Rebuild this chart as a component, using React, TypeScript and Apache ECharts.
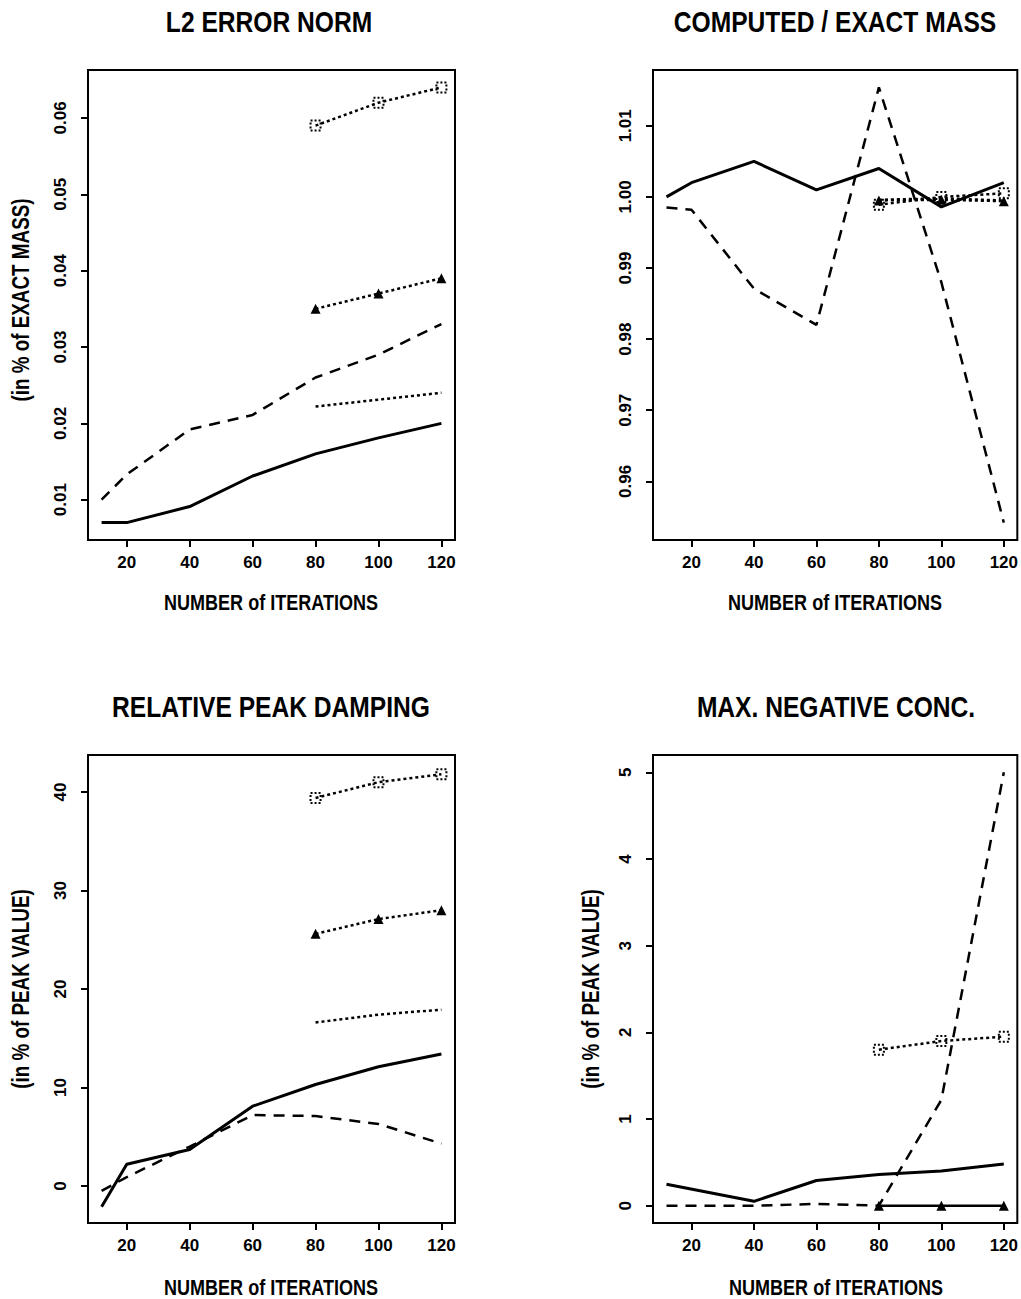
import React, { useEffect, useRef } from "react";
import * as echarts from "echarts";

// ---------- data ----------
const iterations = [12, 20, 40, 60, 80, 100, 120];
const iterLate = [80, 100, 120];
const iterNeg = [12, 40, 60, 80, 100, 120];
const xTicks = [20, 40, 60, 80, 100, 120];

// Panel 1: L2 error norm
const l2Solid = [0.007, 0.007, 0.0091, 0.0131, 0.016, 0.0181, 0.02];
const l2Dashed = [0.01, 0.0133, 0.0192, 0.0211, 0.026, 0.029, 0.033];
const l2Dotted = [0.0222, 0.0231, 0.024];
const l2Triangle = [0.035, 0.037, 0.039];
const l2Square = [0.059, 0.062, 0.064];
const l2Ticks = [0.01, 0.02, 0.03, 0.04, 0.05, 0.06];

// Panel 2: computed / exact mass
const massSolid = [1.0, 1.002, 1.005, 1.001, 1.004, 0.9986, 1.002];
const massDashed = [0.9985, 0.9982, 0.9871, 0.982, 1.0154, 0.988, 0.9542];
const massDotted = [0.9996, 0.9998, 0.9995];
const massTriangle = [0.9995, 0.9996, 0.9994];
const massSquare = [0.9989, 1.0, 1.0005];
const massTicks = [0.96, 0.97, 0.98, 0.99, 1.0, 1.01];

// Panel 3: relative peak damping
const dampSolid = [-2.1, 2.2, 3.7, 8.1, 10.3, 12.1, 13.4];
const dampDashed = [-0.5, 0.9, 4.0, 7.2, 7.1, 6.3, 4.3];
const dampDotted = [16.6, 17.4, 17.9];
const dampTriangle = [25.6, 27.1, 28.0];
const dampSquare = [39.4, 41.0, 41.8];
const dampTicks = [0, 10, 20, 30, 40];

// Panel 4: max negative concentration
const negSolid = [0.247, 0.05, 0.29, 0.36, 0.4, 0.48];
const negDashed = [0.0, 0.0, 0.02, 0.0, 1.22, 5.0];
const negTriangle = [0.0, 0.0, 0.0];
const negSquare = [1.8, 1.9, 1.95];
const negTicks = [0, 1, 2, 3, 4, 5];

const titles = ["L2 ERROR NORM", "COMPUTED / EXACT MASS", "RELATIVE PEAK DAMPING", "MAX. NEGATIVE CONC."];
const xTitle = "NUMBER of ITERATIONS";
const yTitleMass = "(in % of EXACT MASS)";
const yTitlePeak = "(in % of PEAK VALUE)";

// ---------- styling ----------
const FONT = "'Liberation Sans', Arial, sans-serif";
const NARROW = 0.82;

const solidStyle = { color: "#000", width: 3, type: "solid" as any };
const dashedStyle = { color: "#000", width: 2.5, type: [11, 8] as any };
const dottedStyle = { color: "#000", width: 2.5, type: [3, 3] as any };

function pairs(xs: number[], ys: number[]) {
  return xs.map((x, i) => [x, ys[i]]);
}

function line(idx: number, xs: number[], ys: number[], ls: any, marker?: "triangle" | "square") {
  const s: any = {
    type: "line",
    xAxisIndex: idx,
    yAxisIndex: idx,
    data: pairs(xs, ys),
    lineStyle: ls,
    showSymbol: !!marker,
    symbol: "none",
    silent: true,
    z: 3,
  };
  if (marker === "triangle") {
    s.symbol = "triangle";
    s.symbolSize = 10;
    s.itemStyle = { color: "#000" };
  } else if (marker === "square") {
    s.symbol = "rect";
    s.symbolSize = 10;
    s.itemStyle = { color: "rgba(0,0,0,0)", borderColor: "#000", borderWidth: 2, borderType: [2, 2] };
  }
  return s;
}

const grids = [
  { left: 88, top: 70, width: 367, height: 470 },
  { left: 653, top: 70, width: 365, height: 470 },
  { left: 88, top: 755, width: 367, height: 468 },
  { left: 653, top: 755, width: 366, height: 468 },
];

const yRanges = [
  [0.00472, 0.06628],
  [0.95175, 1.01785],
  [-3.76, 43.76],
  [-0.2, 5.2],
];
const yTickSets = [l2Ticks, massTicks, dampTicks, negTicks];
const yFormat = [
  (v: number) => v.toFixed(2),
  (v: number) => v.toFixed(2),
  (v: number) => String(Math.round(v)),
  (v: number) => String(Math.round(v)),
];

function text(x: number, y: number, str: string, size: number, bold: boolean, rot = 0) {
  return {
    type: "text",
    x,
    y,
    rotation: rot,
    scaleX: NARROW,
    silent: true,
    style: {
      text: str,
      fill: "#000",
      font: `${bold ? "bold " : ""}${size}px ${FONT}`,
      textAlign: "center",
      textVerticalAlign: "middle",
    },
  };
}

export default function App() {
  const ref = useRef<HTMLDivElement>(null);

  useEffect(() => {
    if (!ref.current) return;
    const chart = echarts.init(ref.current, null, { renderer: "svg" });

    const xAxis = grids.map((_, i) => ({
      type: "value",
      gridIndex: i,
      min: 7.68,
      max: 124.32,
      axisLine: { show: false, onZero: false },
      splitLine: { show: false },
      axisTick: { show: true, customValues: xTicks, length: 7, inside: false, lineStyle: { color: "#000", width: 2 } },
      axisLabel: {
        show: true,
        customValues: xTicks,
        margin: 14,
        color: "#000",
        fontFamily: FONT,
        fontWeight: "bold",
        fontSize: 17,
      },
    }));

    const yAxis = grids.map((_, i) => ({
      type: "value",
      gridIndex: i,
      min: yRanges[i][0],
      max: yRanges[i][1],
      axisLine: { show: false, onZero: false },
      splitLine: { show: false },
      axisTick: { show: true, customValues: yTickSets[i], length: 7, inside: false, lineStyle: { color: "#000", width: 2 } },
      axisLabel: {
        show: true,
        customValues: yTickSets[i],
        formatter: yFormat[i],
        rotate: 90,
        margin: 19,
        color: "#000",
        fontFamily: FONT,
        fontWeight: "bold",
        fontSize: 17,
      },
    }));

    const series = [
      line(0, iterations, l2Solid, solidStyle),
      line(0, iterations, l2Dashed, dashedStyle),
      line(0, iterLate, l2Dotted, dottedStyle),
      line(0, iterLate, l2Triangle, dottedStyle, "triangle"),
      line(0, iterLate, l2Square, dottedStyle, "square"),

      line(1, iterations, massSolid, solidStyle),
      line(1, iterations, massDashed, dashedStyle),
      line(1, iterLate, massDotted, dottedStyle),
      line(1, iterLate, massTriangle, dottedStyle, "triangle"),
      line(1, iterLate, massSquare, dottedStyle, "square"),

      line(2, iterations, dampSolid, solidStyle),
      line(2, iterations, dampDashed, dashedStyle),
      line(2, iterLate, dampDotted, dottedStyle),
      line(2, iterLate, dampTriangle, dottedStyle, "triangle"),
      line(2, iterLate, dampSquare, dottedStyle, "square"),

      line(3, iterNeg, negSolid, solidStyle),
      line(3, iterNeg, negDashed, dashedStyle),
      line(3, iterLate, negTriangle, { color: "#000", width: 2.5, type: "solid" }, "triangle"),
      line(3, iterLate, negSquare, dottedStyle, "square"),
    ];

    const graphic = [
      text(269, 22, titles[0], 30, true),
      text(835, 22, titles[1], 30, true),
      text(271, 707, titles[2], 30, true),
      text(836, 707, titles[3], 30, true),
      text(271, 602, xTitle, 22, true),
      text(835, 602, xTitle, 22, true),
      text(271, 1287, xTitle, 22, true),
      text(836, 1287, xTitle, 22, true),
      text(21, 300, yTitleMass, 23, true, Math.PI / 2),
      text(21, 989, yTitlePeak, 23, true, Math.PI / 2),
      text(591, 989, yTitlePeak, 23, true, Math.PI / 2),
    ];

    chart.setOption({
      animation: false,
      backgroundColor: "#fff",
      grid: grids.map((g) => ({ ...g, show: true, borderColor: "#000", borderWidth: 2, backgroundColor: "rgba(0,0,0,0)" })),
      xAxis,
      yAxis,
      series,
      graphic,
    });

    return () => chart.dispose();
  }, []);

  return (
    <div
      ref={ref}
      style={{ position: "absolute", left: 0, top: 0, width: 1021, height: 1299, background: "#fff" }}
    />
  );
}
